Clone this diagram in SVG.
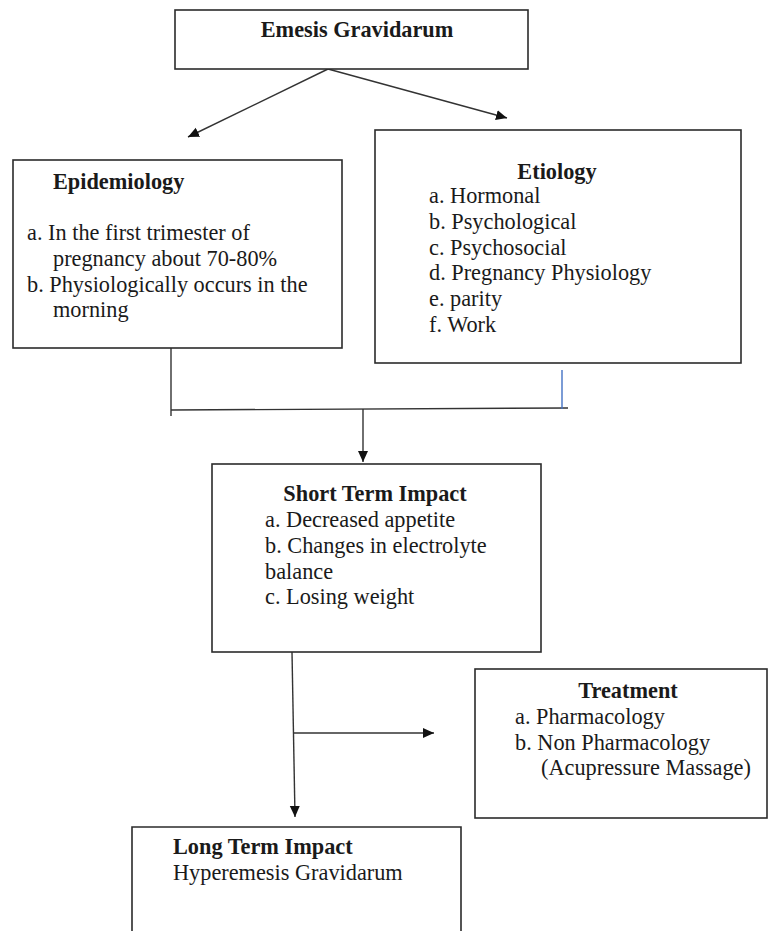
<svg xmlns="http://www.w3.org/2000/svg" width="769" height="931" viewBox="0 0 769 931">
<style>
.box{fill:#fff;stroke:#2b2b2b;stroke-width:1.6}
.t{font-family:"Liberation Serif","Times New Roman",serif;font-size:22.3px;fill:#1a1a1a}
.b{font-weight:bold}
.c{text-anchor:middle}
.ln{fill:none;stroke:#333;stroke-width:1.4}
.blue{fill:none;stroke:#4472c4;stroke-width:1.4}
</style>
<defs>
<marker id="ah" markerUnits="userSpaceOnUse" markerWidth="12" markerHeight="12" viewBox="0 0 12 12" refX="11" refY="6" orient="auto">
<path d="M0,1 L11,6 L0,11 Z" fill="#111"/>
</marker>
</defs>
<rect width="769" height="931" fill="#fff"/>
<g id="connectors">
<line class="ln" x1="328" y1="69" x2="188" y2="137" marker-end="url(#ah)"/>
<line class="ln" x1="328" y1="69" x2="507" y2="118" marker-end="url(#ah)"/>
<line class="ln" x1="171" y1="348" x2="171" y2="416"/>
<line class="ln" x1="171" y1="410" x2="568" y2="408"/>
<line class="blue" x1="562" y1="370" x2="562" y2="409"/>
<line class="ln" x1="363" y1="409" x2="363" y2="462" marker-end="url(#ah)"/>
<line class="ln" x1="292" y1="652" x2="295" y2="817" marker-end="url(#ah)"/>
<line class="ln" x1="294" y1="733" x2="434" y2="733" marker-end="url(#ah)"/>
</g>
<g id="emesis">
<rect class="box" x="175" y="10" width="353" height="59"/>
<text class="t b c" x="357" y="37">Emesis Gravidarum</text>
</g>
<g id="epidemiology">
<rect class="box" x="13" y="160" width="329" height="188"/>
<text class="t b" x="53" y="189">Epidemiology</text>
<text class="t" x="27" y="240">a. In the first trimester of</text>
<text class="t" x="53" y="265.8">pregnancy about 70-80%</text>
<text class="t" x="27" y="291.6">b. Physiologically occurs in the</text>
<text class="t" x="53" y="317.4">morning</text>
</g>
<g id="etiology">
<rect class="box" x="375" y="130" width="366" height="233"/>
<text class="t b c" x="557" y="179">Etiology</text>
<text class="t" x="429" y="203">a. Hormonal</text>
<text class="t" x="429" y="228.8">b. Psychological</text>
<text class="t" x="429" y="254.6">c. Psychosocial</text>
<text class="t" x="429" y="280.4">d. Pregnancy Physiology</text>
<text class="t" x="429" y="306.2">e. parity</text>
<text class="t" x="429" y="332">f. Work</text>
</g>
<g id="short-term">
<rect class="box" x="212" y="464" width="329" height="188"/>
<text class="t b c" x="375" y="501">Short Term Impact</text>
<text class="t" x="265" y="527">a. Decreased appetite</text>
<text class="t" x="265" y="553">b. Changes in electrolyte</text>
<text class="t" x="265" y="579">balance</text>
<text class="t" x="265" y="604">c. Losing weight</text>
</g>
<g id="treatment">
<rect class="box" x="475" y="669" width="292" height="149"/>
<text class="t b c" x="628" y="698">Treatment</text>
<text class="t" x="515" y="723.8">a. Pharmacology</text>
<text class="t" x="515" y="749.6">b. Non Pharmacology</text>
<text class="t" x="541" y="775.4">(Acupressure Massage)</text>
</g>
<g id="long-term">
<path class="box" d="M132,935 L132,827 L461,827 L461,935"/>
<text class="t b" x="173" y="854">Long Term Impact</text>
<text class="t" x="173" y="880">Hyperemesis Gravidarum</text>
</g>
</svg>
